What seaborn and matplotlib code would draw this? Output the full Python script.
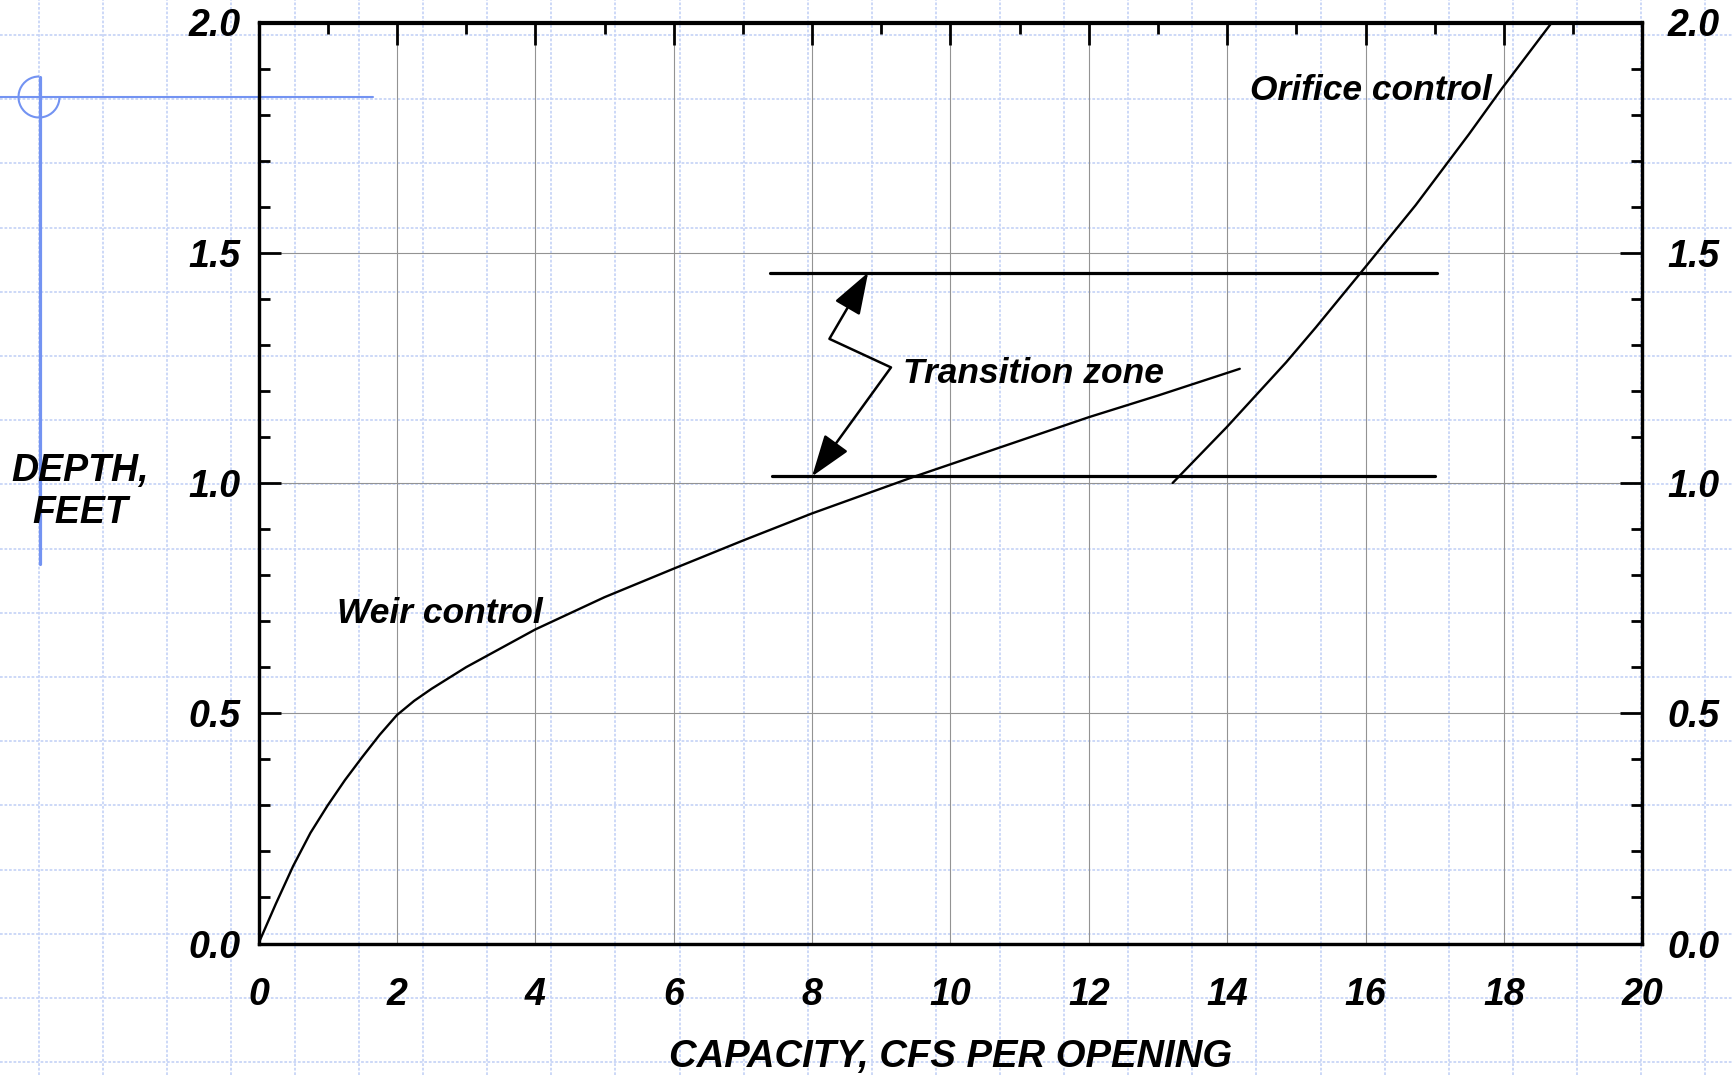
import matplotlib
matplotlib.use("Agg")
import matplotlib.pyplot as plt
import pandas as pd
import seaborn as sns
from matplotlib.lines import Line2D
from matplotlib.patches import Arc, FancyArrowPatch, ArrowStyle
from matplotlib.path import Path
from matplotlib.ticker import MultipleLocator, FormatStrFormatter

# Weir-control rating curve: capacity (cfs per opening) vs depth (ft)
weir_capacity = [0.0, 0.25, 0.5, 0.75, 1.0, 1.25, 1.5, 1.75, 2.0, 2.25, 2.5,
                 3.0, 4.0, 5.0, 6.0, 7.0, 8.0, 9.46, 12.0, 13.0, 14.18]
weir_depth = [0.0, 0.086, 0.168, 0.240, 0.300, 0.355, 0.405, 0.453, 0.496, 0.527, 0.553,
              0.600, 0.682, 0.752, 0.814, 0.875, 0.934, 1.013, 1.143, 1.190, 1.248]

# Orifice-control rating curve
orifice_capacity = [13.21, 13.99, 14.85, 15.28, 15.99, 16.72, 17.49, 17.97, 18.69]
orifice_depth = [1.0, 1.121, 1.262, 1.338, 1.468, 1.603, 1.757, 1.857, 2.0]

# Lower and upper limits of the transition zone
zone_depth = [1.0145, 1.457]
zone_start = [7.42, 7.39]
zone_end = [17.0, 17.03]

x_ticks = list(range(0, 21, 2))
y_ticks = [0.0, 0.5, 1.0, 1.5, 2.0]
x_label = "CAPACITY, CFS PER OPENING"
y_label = "DEPTH,\nFEET"
weir_text = "Weir control"
orifice_text = "Orifice control"
zone_text = "Transition zone"

sns.set_theme(style="white", rc={
    "axes.edgecolor": "black",
    "axes.labelcolor": "black",
    "axes.linewidth": 2.3,
    "text.color": "black",
    "xtick.color": "black",
    "ytick.color": "black",
    "xtick.direction": "in",
    "ytick.direction": "in",
    "xtick.major.size": 16,
    "ytick.major.size": 16,
    "xtick.minor.size": 8,
    "ytick.minor.size": 8,
    "xtick.major.width": 2.0,
    "ytick.major.width": 2.0,
    "xtick.minor.width": 2.0,
    "ytick.minor.width": 2.0,
    "xtick.labelsize": 27,
    "ytick.labelsize": 27,
})
plt.rcParams["font.family"] = ["Liberation Sans", "DejaVu Sans"]
plt.rcParams["font.weight"] = "bold"
plt.rcParams["font.style"] = "italic"

W, H = 1732, 1075
fig = plt.figure(figsize=(W / 100, H / 100), dpi=100)
fig.patch.set_facecolor("white")

# graph-paper background
paper = "#c8d5f7"
for k in range(27):
    x = (38.5 + 64.1 * k) / W
    fig.add_artist(Line2D([x, x], [0, 1], transform=fig.transFigure, color=paper,
                          lw=1.3, ls=(0, (1.5, 1.0)), zorder=-5))
for k in range(17):
    y = 1 - (35 + 64.2 * k) / H
    fig.add_artist(Line2D([0, 1], [y, y], transform=fig.transFigure, color=paper,
                          lw=1.3, ls=(0, (1.5, 1.0)), zorder=-5))

# blue registration mark
mark = "#7393f2"
fig.add_artist(Line2D([40 / W, 40 / W], [1 - 77 / H, 1 - 564 / H], transform=fig.transFigure,
                      color=mark, lw=2.3, zorder=-4))
fig.add_artist(Line2D([0, 373 / W], [1 - 97 / H, 1 - 97 / H], transform=fig.transFigure,
                      color=mark, lw=1.5, zorder=-4))
fig.add_artist(Arc((39 / W, 1 - 97 / H), 41 / W, 41 / H, theta1=90, theta2=360,
                   transform=fig.transFigure, color=mark, lw=1.5, zorder=-4))

ax = fig.add_axes([258.5 / W, (H - 943.5) / H, 1384 / W, 921 / H])
ax.set_facecolor("none")

weir_df = pd.DataFrame({"capacity": weir_capacity, "depth": weir_depth})
orifice_df = pd.DataFrame({"capacity": orifice_capacity, "depth": orifice_depth})
zone_df = pd.DataFrame({
    "capacity": zone_start + zone_end,
    "depth": zone_depth + zone_depth,
    "edge": ["low", "high", "low", "high"],
})

sns.lineplot(data=weir_df, x="capacity", y="depth", color="black", lw=1.7,
             estimator=None, sort=False, ax=ax, zorder=4)
sns.lineplot(data=orifice_df, x="capacity", y="depth", color="black", lw=1.7,
             estimator=None, sort=False, ax=ax, zorder=4)
sns.lineplot(data=zone_df, x="capacity", y="depth", units="edge", color="black",
             lw=2.3, estimator=None, ax=ax, zorder=4)

ax.set_xlim(0, 20)
ax.set_ylim(0, 2)
ax.set_xticks(x_ticks)
ax.set_yticks(y_ticks)
ax.xaxis.set_minor_locator(MultipleLocator(1))
ax.yaxis.set_minor_locator(MultipleLocator(0.1))
ax.yaxis.set_major_formatter(FormatStrFormatter("%.1f"))
ax.grid(True, which="major", color="#939393", lw=0.8)
ax.set_axisbelow(True)

ax.tick_params(axis="both", which="both", direction="in", top=True, right=False)
ax.tick_params(axis="x", which="major", pad=24)
ax.tick_params(axis="y", which="major", pad=13)

# right-hand depth scale
right = ax.twinx()
right.set_ylim(0, 2)
right.set_yticks(y_ticks)
right.yaxis.set_minor_locator(MultipleLocator(0.1))
right.yaxis.set_major_formatter(FormatStrFormatter("%.1f"))
right.tick_params(axis="y", which="both", direction="in", left=False, right=True)
right.tick_params(axis="y", which="major", pad=18)
right.grid(False)
for sp in right.spines.values():
    sp.set_linewidth(2.3)

for lab in ax.get_xticklabels() + ax.get_yticklabels() + right.get_yticklabels():
    lab.set_fontweight("bold")
    lab.set_fontstyle("italic")

ax.set_xlabel(x_label, fontsize=27.5, fontweight="bold", fontstyle="italic")
ax.xaxis.label.set_va("baseline")
ax.xaxis.set_label_coords(0.5, (943.5 - 1067) / 921)
ax.set_ylabel(y_label, fontsize=27, fontweight="bold", fontstyle="italic",
              rotation=0, ha="center", va="center", multialignment="center",
              linespacing=1.2)
ax.yaxis.set_label_coords((80 - 258.5) / 1384, (943.5 - 492) / 921)

note = {"fontsize": 25.5, "fontweight": "bold", "fontstyle": "italic",
        "va": "baseline", "ha": "left", "zorder": 5}
ax.text(1.134, 0.696, weir_text, **note)
ax.text(14.33, 1.832, orifice_text, **note)
ax.text(9.31, 1.2165, zone_text, **note)

# zig-zag leader pointing to both limits of the transition zone
leader = Path([(8.81, 1.457), (8.25, 1.313), (9.14, 1.251), (8.0, 1.0145)],
              [Path.MOVETO, Path.LINETO, Path.LINETO, Path.LINETO])
ax.add_patch(FancyArrowPatch(path=leader,
                             arrowstyle=ArrowStyle("<|-|>", head_length=26, head_width=9),
                             color="black", lw=1.8, shrinkA=0, shrinkB=0, zorder=5))

fig.savefig("out.png", dpi=100, facecolor="white")
